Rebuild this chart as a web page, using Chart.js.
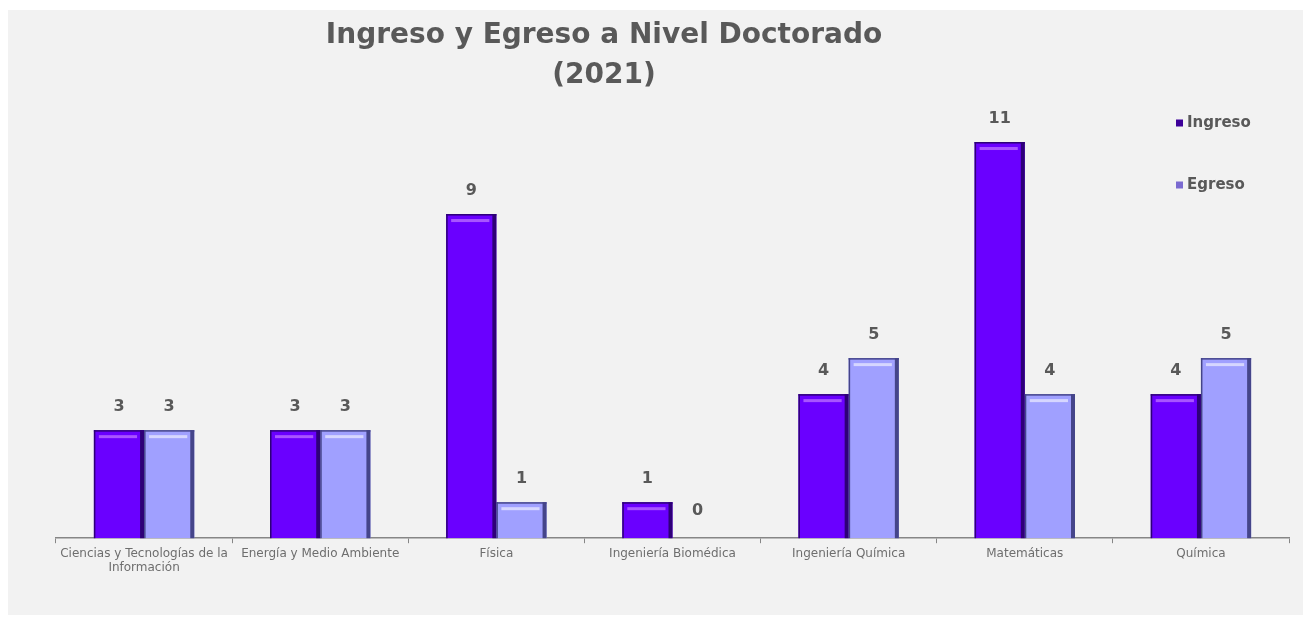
<!DOCTYPE html>
<html><head><meta charset="utf-8">
<script src="https://cdn.jsdelivr.net/npm/chart.js@4/dist/chart.umd.min.js"></script>
<style>html,body{margin:0;padding:0;background:#fff}#wrap{width:1311px;height:620px}</style>
</head><body><div id="wrap"><canvas id="c" width="1311" height="620"></canvas></div>
<script>
const categories = [["Ciencias y Tecnologías de la","Información"],"Energía y Medio Ambiente","Física","Ingeniería Biomédica","Ingeniería Química","Matemáticas","Química"];
const ingreso = [3,3,9,1,4,11,4];
const egreso = [3,3,1,0,5,4,5];
const titleLines = ["Ingreso y Egreso a Nivel Doctorado","(2021)"];

const styles = [
  {fill:'#6a00ff', edge:'#2e0078', hi:'#a855ff'},
  {fill:'#a0a0ff', edge:'#45458a', hi:'#d6d6ff'}
];

const deco = {
  id:'deco',
  beforeDraw(chart){
    const ctx = chart.ctx;
    ctx.save();
    ctx.fillStyle='#ffffff'; ctx.fillRect(0,0,chart.width,chart.height);
    ctx.fillStyle='#f2f2f2'; ctx.fillRect(8,10,1295,605);
    ctx.restore();
  },
  afterDatasetsDraw(chart){
    const ctx = chart.ctx;
    ctx.save();
    chart.data.datasets.forEach((ds,i)=>{
      const meta = chart.getDatasetMeta(i);
      const st = styles[i];
      meta.data.forEach((bar,j)=>{
        const v = ds.data[j];
        const w = bar.width, l = bar.x - w/2, r = bar.x + w/2, top = bar.y, bot = bar.base;
        if (v > 0) {
          const h = bot-top;
          ctx.fillStyle = st.edge;
          ctx.fillRect(r-4, top, 4, h);
          ctx.fillRect(l, top, 1.5, h);
          ctx.fillRect(l, top, w, 1.5);
          ctx.fillStyle = st.hi;
          ctx.fillRect(l+5, top+5, w-12, 3);
        }
        ctx.fillStyle = '#595959';
        ctx.font = 'bold 16px "DejaVu Sans"';
        ctx.textAlign = 'center';
        ctx.textBaseline = 'middle';
        const dy = v > 0 ? 23 : 27;
        ctx.fillText(String(v), bar.x, top - dy);
      });
    });
    ctx.restore();
  },
  afterDraw(chart){
    const ctx = chart.ctx;
    ctx.save();
    ctx.fillStyle='#595959';
    ctx.font='bold 28px "DejaVu Sans"';
    ctx.textAlign='center'; ctx.textBaseline='middle';
    ctx.fillText(titleLines[0], 604, 36);
    ctx.fillText(titleLines[1], 604, 76);
    ctx.font='bold 15px "DejaVu Sans"';
    ctx.textAlign='left';
    const ly=[123,185];
    chart.data.datasets.forEach((ds,i)=>{
      ctx.fillStyle = i===0 ? '#3d0099' : '#7a6ad0';
      ctx.fillRect(1176, ly[i]-3.5, 7, 7);
      ctx.fillStyle='#595959';
      ctx.fillText(ds.label, 1187, ly[i]);
    });
    ctx.restore();
  }
};

new Chart(document.getElementById('c'), {
  type:'bar',
  data:{
    labels: categories,
    datasets:[
      {label:'Ingreso', data: ingreso, backgroundColor: styles[0].fill, borderWidth:0},
      {label:'Egreso', data: egreso, backgroundColor: styles[1].fill, borderWidth:0}
    ]
  },
  options:{
    responsive:false,
    animation:false,
    devicePixelRatio:1,
    layout:{padding:{left:56,right:22,top:106,bottom:42}},
    datasets:{bar:{categoryPercentage:0.57,barPercentage:1}},
    plugins:{legend:{display:false},title:{display:false},tooltip:{enabled:false}},
    scales:{
      x:{
        grid:{display:true,drawOnChartArea:false,drawTicks:true,tickLength:5,color:'#868686',offset:true},
        border:{display:true,color:'#868686',width:1.5},
        ticks:{color:'#6e6e6e',font:{family:'"DejaVu Sans"',size:12},maxRotation:0,autoSkip:false,padding:3}
      },
      y:{display:false,min:0,max:12}
    }
  },
  plugins:[deco]
});
</script></body></html>
